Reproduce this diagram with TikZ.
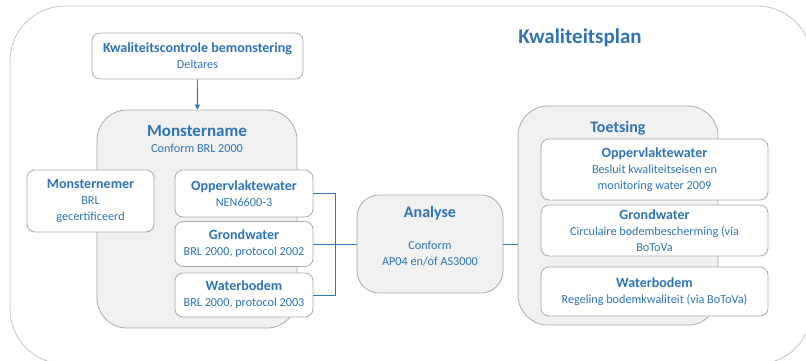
\documentclass[tikz,border=0pt]{standalone}
\usepackage{fontspec}
\setmainfont{Carlito}
\usetikzlibrary{arrows.meta}

\newcommand{\hdr}[1]{{\fontsize{14}{15.5}\selectfont\bfseries #1}}

\begin{document}
\begin{tikzpicture}[x=1pt,y=-1pt,
  box/.style={draw=boxline,fill=white,rounded corners=8pt,line width=0.8pt,
    align=center,text=planblue,inner sep=2pt},
  holder/.style={draw=boxline,fill=holdfill,rounded corners=30pt,line width=0.8pt},
  body/.style={font=\fontsize{12.2}{16}\selectfont,text=planblue,align=center},
  link/.style={draw=planblue,line width=0.8pt}]
% Define colours
\definecolor{planblue}{RGB}{46,116,181}
\definecolor{boxline}{RGB}{170,170,170}
\definecolor{holdfill}{RGB}{241,241,241}
\definecolor{frameline}{RGB}{195,195,195}

\useasboundingbox (0,0) rectangle (806,360);

% Draw outer frame
\draw[frameline,line width=0.8pt,rounded corners=55pt] (10,6) rectangle (812,364);
\node[text=planblue,font=\fontsize{21}{24}\selectfont\bfseries] (plan) at (580,38) {Kwaliteitsplan};

% Draw quality control
\node[box,body,minimum width=211pt,minimum height=46pt] (kc) at (197.5,56)
  {\hdr{Kwaliteitscontrole bemonstering}\\Deltares};

% Draw sampling
\node[holder,minimum width=200pt,minimum height=218pt] (mn) at (197,219) {};
\node[body] (mnt) at (197,139)
  {{\fontsize{17}{20}\selectfont\bfseries Monstername}\\Conform BRL 2000};
\node[box,body,minimum width=127pt,minimum height=62pt] (mnr) at (90.5,201)
  {\hdr{Monsternemer}\\BRL\\gecertificeerd};
\node[box,body,minimum width=138pt,minimum height=47pt] (opw) at (244,193.5)
  {\hdr{Oppervlaktewater}\\NEN6600-3};
\node[box,body,minimum width=138pt,minimum height=45pt] (gw) at (244,244)
  {\hdr{Grondwater}\\BRL 2000, protocol 2002};
\node[box,body,minimum width=138pt,minimum height=44pt] (wb) at (244,295)
  {\hdr{Waterbodem}\\BRL 2000, protocol 2003};

% Draw analysis
\node[holder,rounded corners=22pt,minimum width=146pt,minimum height=98pt] (an) at (430,244) {};
\node[text=planblue,font=\fontsize{16}{18}\selectfont\bfseries] (ant) at (430,213) {Analyse};
\node[body] (anb) at (430,253.5) {Conform\\AP04 en/of AS3000};

% Draw testing
\node[holder,minimum width=200pt,minimum height=219pt] (ts) at (618,215.5) {};
\node[text=planblue,font=\fontsize{16}{18}\selectfont\bfseries] (tst) at (618,128) {Toetsing};
\node[box,body,minimum width=227pt,minimum height=61pt] (t1) at (654.5,169.5)
  {\hdr{Oppervlaktewater}\\Besluit kwaliteitseisen en\\monitoring water 2009};
\node[box,body,minimum width=227pt,minimum height=51pt] (t2) at (654.5,230.5)
  {\hdr{Grondwater}\\Circulaire bodembescherming (via\\BoToVa};
\node[box,body,minimum width=227pt,minimum height=49pt] (t3) at (654.5,291.5)
  {\hdr{Waterbodem}\\Regeling bodemkwaliteit (via BoToVa)};

% Add connectors
\coordinate (jn) at (335,244);
\draw[link,-{Triangle[length=5pt,width=5pt]}] (kc) -- (mn);
\draw[link] (opw.east) -| (jn);
\draw[link] (wb.east) -| (jn);
\draw[link] (gw.east) -- (an.west);
\draw[link] (an.east) -- (an.east -| ts.west);
\end{tikzpicture}
\end{document}
